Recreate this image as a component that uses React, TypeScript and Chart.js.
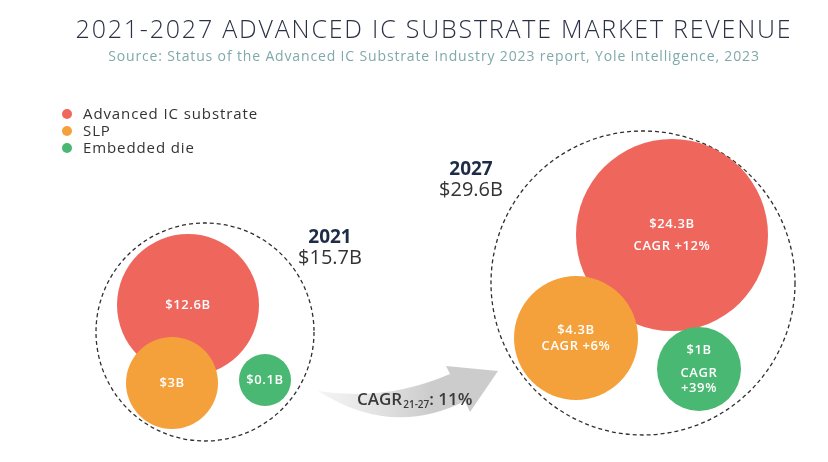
import React, { useEffect, useRef } from 'react';
import { Chart, registerables } from 'chart.js';

Chart.register(...registerables);

// ---------- data ----------
const categories = ['Advanced IC substrate', 'SLP', 'Embedded die'];
const years = ['2021', '2027'];
const revenue2021 = [12.6, 3, 0.1]; // $B
const revenue2027 = [24.3, 4.3, 1]; // $B
const cagr2127 = [12, 6, 39]; // %
const totalRevenue = [15.7, 29.6]; // $B, 2021 / 2027
const totalCagr = 11; // %

const titleText = '2021-2027 ADVANCED IC SUBSTRATE MARKET REVENUE';
const subtitleText =
  'Source: Status of the Advanced IC Substrate Industry 2023 report, Yole Intelligence, 2023';

// ---------- layout & style (scale units = canvas px) ----------
const colors = ['#EF665D', '#F5A13B', '#49B872'];
const bubbleX = [
  [188, 672],
  [172, 576],
  [265, 699],
];
const bubbleY = [
  [305, 235],
  [383, 338],
  [380, 369],
];
const bubbleR = [
  [71, 96],
  [46, 62],
  [26, 42],
];
const groupX = [205, 643];
const groupY = [332, 283];
const groupR = [109, 152];
const splitCagrLine = [false, false, true];
const labelDy2027 = [
  [-11, 11],
  [-8, 8],
  [-19, 4, 19],
];
const yearLabelX = [330, 471];
const yearLabelY = [243, 175];
const FONT = '"Open Sans", "DejaVu Sans", sans-serif';

const fmtB = (v: number) => `$${v}B`;

const overlayPlugin = {
  id: 'overlay',
  beforeDatasetsDraw(chart: any) {
    const { ctx, scales } = chart;
    const sx = (v: number) => scales.x.getPixelForValue(v);
    const sy = (v: number) => scales.y.getPixelForValue(v);
    ctx.save();
    // arrow
    const grad = ctx.createLinearGradient(sx(318), 0, sx(430), 0);
    grad.addColorStop(0, 'rgba(220,220,220,0.3)');
    grad.addColorStop(1, 'rgba(204,204,204,1)');
    ctx.fillStyle = grad;
    ctx.beginPath();
    ctx.moveTo(sx(318), sy(391));
    ctx.quadraticCurveTo(sx(385), sy(402), sx(450), sy(374));
    ctx.lineTo(sx(446), sy(366));
    ctx.lineTo(sx(498), sy(371));
    ctx.lineTo(sx(470), sy(412));
    ctx.lineTo(sx(465), sy(401));
    ctx.quadraticCurveTo(sx(392), sy(438), sx(318), sy(391));
    ctx.closePath();
    ctx.fill();
    // dashed group circles
    ctx.strokeStyle = '#2f2f2f';
    ctx.lineWidth = 1.3;
    ctx.setLineDash([4, 3]);
    for (let i = 0; i < groupX.length; i++) {
      const r = Math.abs(sx(groupR[i]) - sx(0));
      ctx.beginPath();
      ctx.arc(sx(groupX[i]), sy(groupY[i]), r, 0, Math.PI * 2);
      ctx.stroke();
    }
    ctx.restore();
  },
  afterDatasetsDraw(chart: any) {
    const { ctx, scales } = chart;
    const sx = (v: number) => scales.x.getPixelForValue(v);
    const sy = (v: number) => scales.y.getPixelForValue(v);
    ctx.save();
    ctx.textAlign = 'center';
    ctx.textBaseline = 'middle';
    ctx.fillStyle = '#ffffff';
    ctx.font = `600 13px ${FONT}`;
    ctx.letterSpacing = '0.6px';
    chart.data.datasets.forEach((ds: any, i: number) => {
      const meta = chart.getDatasetMeta(i);
      meta.data.forEach((el: any, j: number) => {
        const raw = ds.data[j];
        if (j === 0) {
          ctx.fillText(fmtB(raw.v), el.x, el.y);
        } else {
          const lines = splitCagrLine[i]
            ? [fmtB(raw.v), 'CAGR', `+${raw.c}%`]
            : [fmtB(raw.v), `CAGR +${raw.c}%`];
          lines.forEach((t, k) => ctx.fillText(t, el.x, el.y + labelDy2027[i][k]));
        }
      });
    });
    // year / total labels
    ctx.textBaseline = 'alphabetic';
    ctx.letterSpacing = '0px';
    years.forEach((y, k) => {
      ctx.fillStyle = '#1f2c47';
      ctx.font = `700 19px ${FONT}`;
      ctx.fillText(y, sx(yearLabelX[k]), sy(yearLabelY[k]));
      ctx.fillStyle = '#333333';
      ctx.font = `400 20px ${FONT}`;
      ctx.fillText(fmtB(totalRevenue[k]), sx(yearLabelX[k]), sy(yearLabelY[k] + 21));
    });
    // CAGR on arrow
    ctx.textAlign = 'left';
    ctx.fillStyle = '#3a3a3a';
    let x = sx(357);
    const base = sy(405);
    ctx.font = `600 17px ${FONT}`;
    ctx.fillText('CAGR', x, base);
    x += ctx.measureText('CAGR').width + 1;
    ctx.font = `600 10px ${FONT}`;
    ctx.fillText('21-27', x, base + 3);
    x += ctx.measureText('21-27').width;
    ctx.font = `600 17px ${FONT}`;
    ctx.fillText(`: ${totalCagr}%`, x, base);
    // title & subtitle
    ctx.textAlign = 'center';
    ctx.fillStyle = '#2b3145';
    ctx.font = `300 25px ${FONT}`;
    ctx.letterSpacing = '1.8px';
    ctx.fillText(titleText, sx(434), sy(38));
    ctx.fillStyle = '#7fa9ab';
    ctx.font = `400 14px ${FONT}`;
    ctx.letterSpacing = '0.85px';
    ctx.fillText(subtitleText, sx(434), sy(61));
    // legend
    ctx.textAlign = 'left';
    ctx.textBaseline = 'middle';
    ctx.font = `400 15px ${FONT}`;
    ctx.letterSpacing = '0.9px';
    categories.forEach((c, i) => {
      const yy = sy(114 + i * 17);
      ctx.fillStyle = colors[i];
      ctx.beginPath();
      ctx.arc(sx(67), yy, 5, 0, Math.PI * 2);
      ctx.fill();
      ctx.fillStyle = '#333333';
      ctx.fillText(c, sx(83), yy + 1);
    });
    ctx.letterSpacing = '0px';
    ctx.restore();
  },
};

export default function App() {
  const ref = useRef<HTMLCanvasElement | null>(null);
  useEffect(() => {
    if (!ref.current) return;
    const datasets = categories.map((c, i) => ({
      label: c,
      data: [
        { x: bubbleX[i][0], y: bubbleY[i][0], r: bubbleR[i][0], v: revenue2021[i], c: 0 },
        { x: bubbleX[i][1], y: bubbleY[i][1], r: bubbleR[i][1], v: revenue2027[i], c: cagr2127[i] },
      ],
      backgroundColor: colors[i],
      borderWidth: 0,
      hoverRadius: 0,
      clip: false as any,
      order: categories.length - i, // later categories drawn on top
    }));
    const chart = new Chart(ref.current, {
      type: 'bubble',
      data: { datasets },
      options: {
        animation: false,
        responsive: false,
        events: [],
        layout: { padding: 0, autoPadding: false },
        scales: {
          x: { type: 'linear', min: 0, max: 828, display: false },
          y: { type: 'linear', min: 0, max: 462, reverse: true, display: false },
        },
        plugins: {
          legend: { display: false },
          tooltip: { enabled: false },
          title: { display: false },
        },
      },
      plugins: [overlayPlugin],
    });
    return () => chart.destroy();
  }, []);
  return (
    <div style={{ position: 'absolute', left: 0, top: 0, width: 828, height: 462, background: '#fff' }}>
      <canvas ref={ref} width={828} height={462} />
    </div>
  );
}
